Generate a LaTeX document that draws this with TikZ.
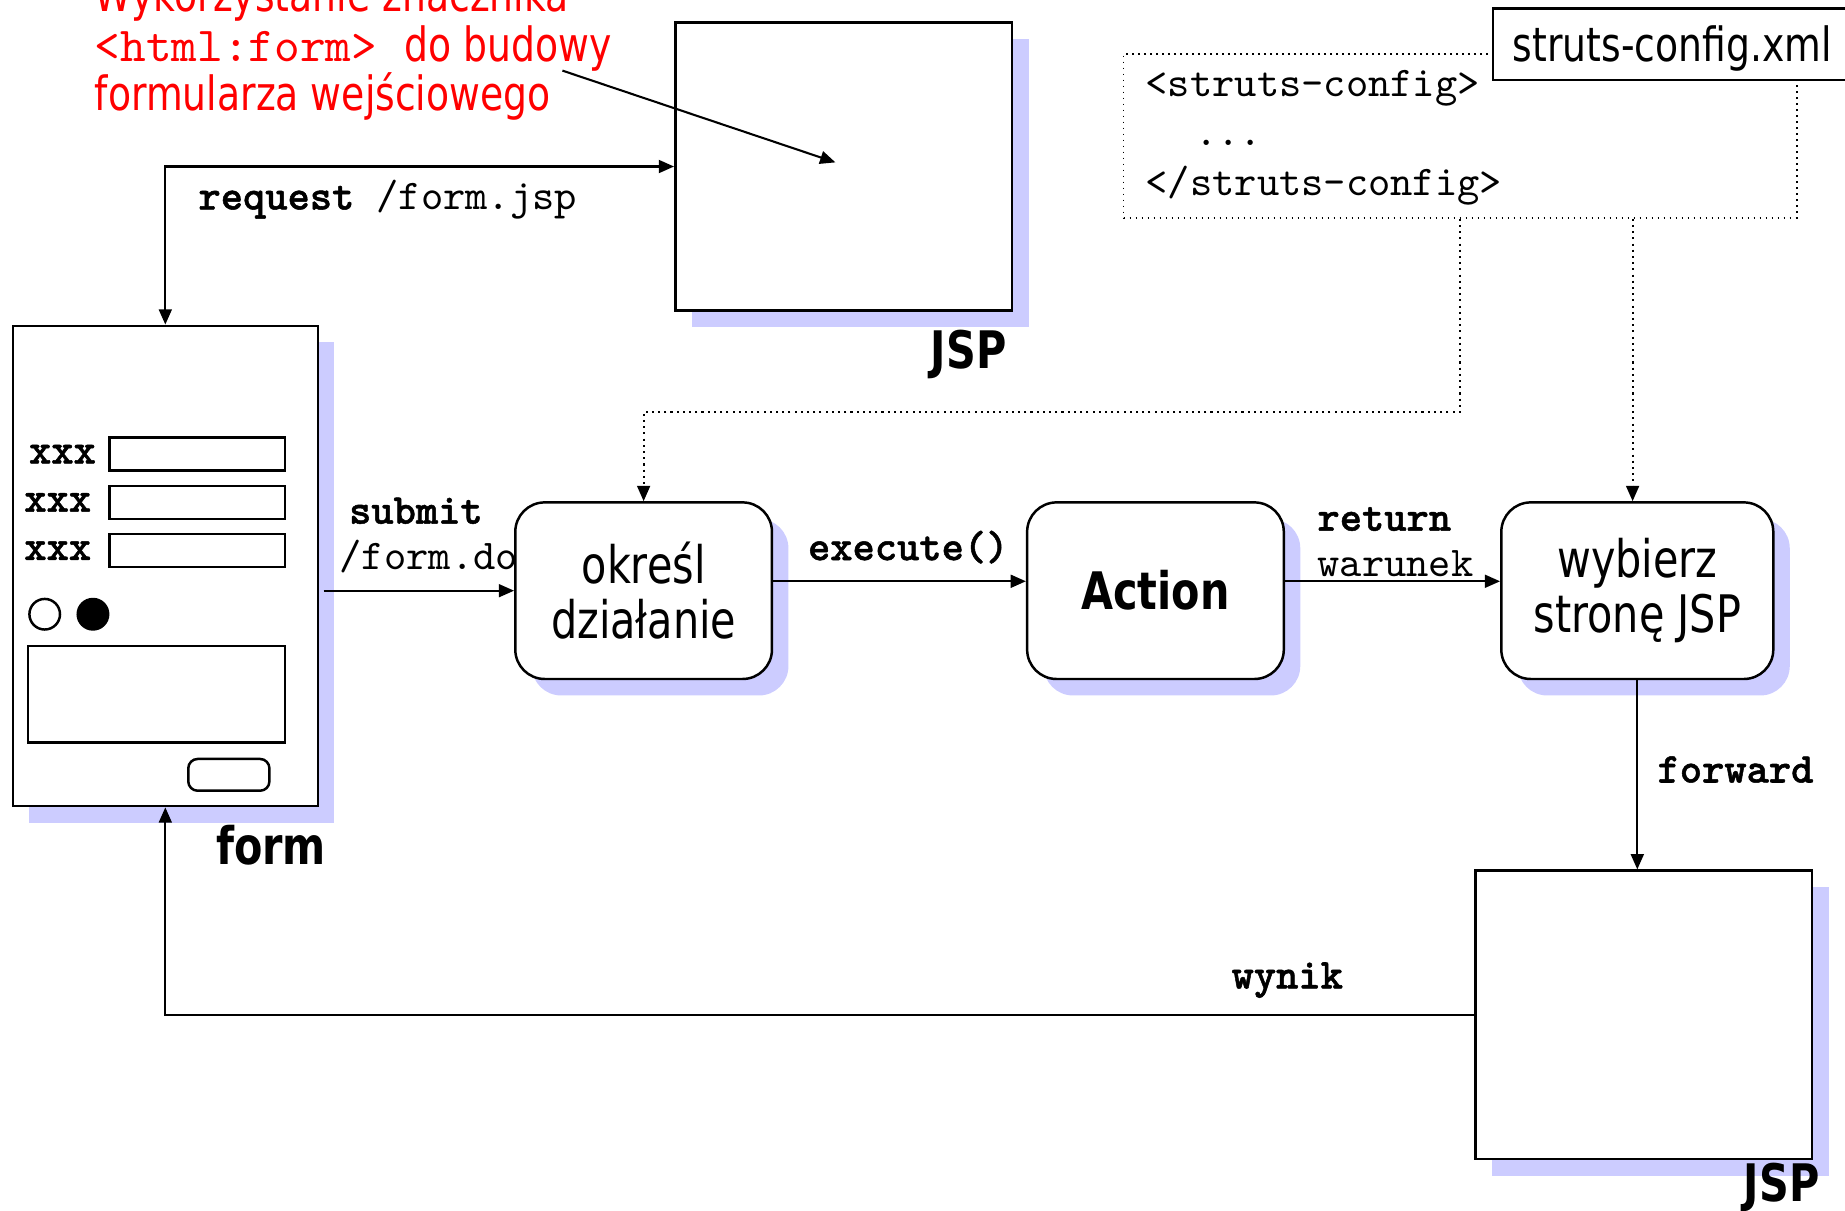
\documentclass[tikz,border=0pt]{standalone}
\usepackage{fontspec}
\setmainfont{DejaVu Sans}[FakeStretch=0.8]
\setmonofont{lmmono10-regular.otf}[BoldFont=lmmonolt10-bold.otf, BoldFeatures={FakeBold=1.2}]
\usepackage{tikz}
\usetikzlibrary{arrows.meta,shadows,calc}

\definecolor{shadowblue}{RGB}{204,204,255}

\tikzset{
	page/.style={draw, line width=0.6pt, fill=white, inner sep=0pt,
		drop shadow={shadow xshift=1.4mm, shadow yshift=-1.4mm, fill=shadowblue, opacity=1}},
	stepbox/.style={page, rounded corners=2.5mm, align=center, minimum height=1.5cm,
		font=\fontsize{12.5}{13.4}\selectfont},
	flow/.style={-{Triangle[length=1.3mm,width=1.1mm]}, line width=0.5pt},
	cfgflow/.style={flow, densely dotted, line width=0.45pt},
	monolbl/.style={inner sep=0pt, anchor=base west, font=\fontsize{10.25}{11}\ttfamily},
	sanslbl/.style={inner sep=0pt, anchor=base west, font=\fontsize{11.4}{12}\selectfont},
	pagelbl/.style={inner sep=0pt, anchor=base east, font=\fontsize{12.5}{13}\selectfont\bfseries},
	hint/.style={sanslbl, text=red},
}

\begin{document}
\begin{tikzpicture}[x=0.01cm, y=-0.01cm]
	\useasboundingbox (0,0) rectangle (1568,1029);

	% pages and steps
	\node[page, minimum width=2.86cm, minimum height=2.45cm] (jsptop) at (717,141.5) {};
	\node[pagelbl] (jsptoplbl) at (856,313) {JSP};
	\node[page, minimum width=2.86cm, minimum height=2.45cm] (jspbot) at (1397,862.5) {};
	\node[pagelbl] (jspbotlbl) at (1547,1021) {JSP};
	\node[page, minimum width=2.59cm, minimum height=4.08cm] (form) at (140.5,481) {};
	\node[pagelbl, anchor=base west] (formlbl) at (183,735) {form};

	\node[stepbox, minimum width=2.18cm] (okresl) at (547,502) {określ\\działanie};
	\node[stepbox, minimum width=2.18cm, font=\fontsize{12.5}{13.4}\selectfont\bfseries] (action) at (982,502) {Action};
	\node[stepbox, minimum width=2.31cm] (wybierz) at (1391.5,502) {wybierz\\stronę JSP};

	% form fields
	\foreach \y/\x in {386/24, 427/20, 468/20} {
		\node[monolbl, anchor=west, font=\fontsize{10.25}{11}\ttfamily\bfseries] at (\x,\y) {xxx};
		\draw[line width=0.6pt] (93,\y-14) rectangle (242,\y+14);
	}
	\draw[line width=0.6pt] (38,522) circle [radius=13];
	\fill (79,522) circle [radius=14];
	\draw[line width=0.6pt] (24,549) rectangle (242,631);
	\draw[line width=0.6pt, rounded corners=0.8mm] (160,645) rectangle (229,672);

	% struts-config.xml
	\node[draw, densely dotted, line width=0.45pt, minimum width=5.72cm, minimum height=1.39cm] (config) at (1241,115.5) {};
	\node[monolbl] (cfg1) at (973,82) {<struts-config>};
	\node[monolbl] (cfg2) at (1015,124) {...};
	\node[monolbl] (cfg3) at (973,166) {</struts-config>};
	\node[draw, fill=white, line width=0.6pt, anchor=north west, minimum width=3.2cm, minimum height=0.61cm] (xmlname) at (1268,6) {};
	\node[sanslbl] (xmlnamelbl) at (1285,52) {struts-config.xml};

	% hint
	\node[hint] (hint1) at (80,10) {Wykorzystanie znacznika};
	\node[hint, font=\fontsize{11.8}{12}\ttfamily] (hint2) at (80,52) {<html:form>};
	\node[hint] (hint3) at (343,52) {do budowy};
	\node[hint] (hint4) at (80,94) {formularza wejściowego};
	\coordinate (hintstart) at (478,60);
	\coordinate (hintend) at (710,138);
	\draw[flow] (hintstart) -- (hintend);

	% connectors
	\draw[flow, {Triangle[length=1.3mm,width=1.1mm]}-{Triangle[length=1.3mm,width=1.1mm]}] (form.north) |- (jsptop.west);
	\node[monolbl] (reqlbl) at (168,178) {\textbf{request} /form.jsp};
	\draw[flow] ([xshift=0.4mm]form.east |- okresl.west) -- (okresl.west);
	\node[monolbl] (submitlbl) at (296,445) {\textbf{submit}};
	\node[monolbl] (submiturl) at (288,484) {/form.do};
	\draw[flow] ([yshift=0.8mm]okresl.east) -- ([yshift=0.8mm]action.west);
	\node[monolbl] (execlbl) at (686,476) {\textbf{execute()}};
	\draw[flow] ([yshift=0.8mm]action.east) -- ([yshift=0.8mm]wybierz.west);
	\node[monolbl] (retlbl) at (1119,451) {\textbf{return}};
	\node[monolbl] (retval) at (1119,490) {warunek};
	\draw[flow] (wybierz.south) -- (wybierz.south |- jspbot.north);
	\node[monolbl] (fwdlbl) at (1408,665) {\textbf{forward}};
	\draw[flow] (jspbot.west) -| (form.south);
	\node[monolbl] (wyniklbl) at (1046,840) {\textbf{wynik}};
	\draw[cfgflow] (config.south) -- ++(0,164) -| (okresl.north);
	\draw[cfgflow] ([xshift=-0.4mm]config.south -| wybierz.north) -- ([xshift=-0.4mm]wybierz.north);
\end{tikzpicture}
\end{document}
